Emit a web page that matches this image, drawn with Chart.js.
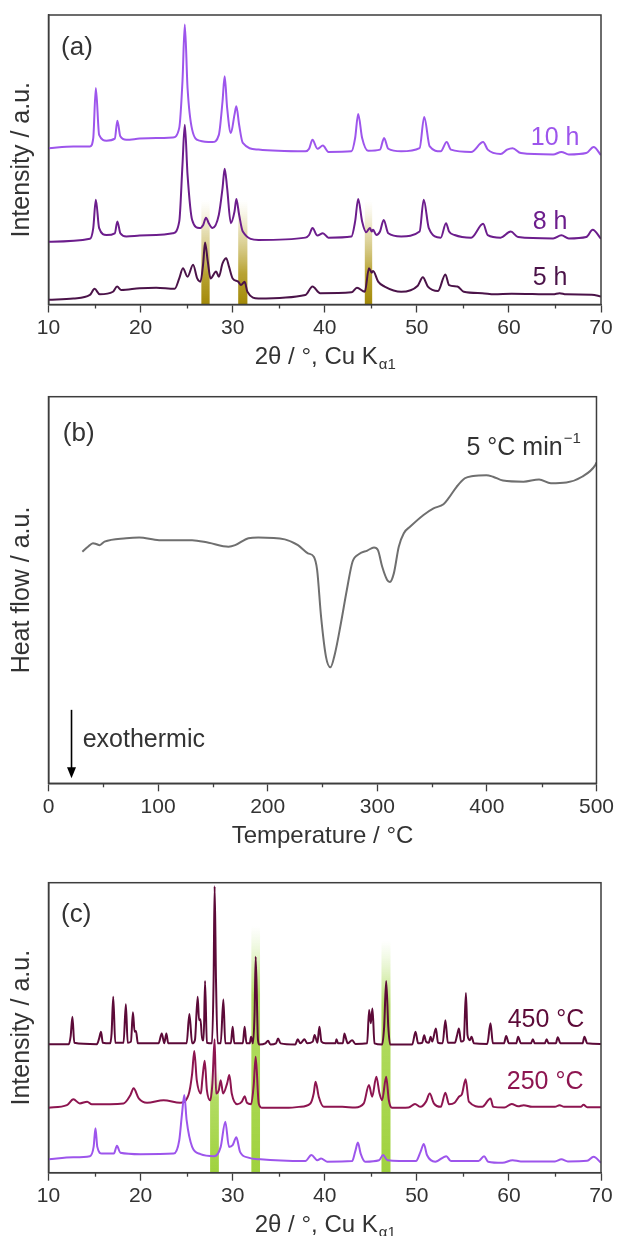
<!DOCTYPE html>
<html>
<head>
<meta charset="utf-8">
<script src="https://cdn.jsdelivr.net/npm/chart.js@4.4.0/dist/chart.umd.min.js"></script>
<style>
html, body { margin: 0; padding: 0; background: #fff; }
body { width: 617px; height: 1236px; position: relative; overflow: hidden; }
canvas { position: absolute; left: 0; }
</style>
</head>
<body>
<canvas id="chartA" width="617" height="375" style="top:0px"></canvas>
<canvas id="chartB" width="617" height="475" style="top:375px"></canvas>
<canvas id="chartC" width="617" height="386" style="top:850px"></canvas>
<script>
// (a) XRD after milling time, [2theta, intensity a.u.]
const xrd10h = [
    [10,54.0],[12.7,54.6],[14.5,54.6],[14.86,57.5],[15.14,74.8],[15.5,58.6],[16.3,56.6],[17.2,57.3],[17.48,63.5],[17.8,58.1],
    [18.45,56.9],[19.9,57.3],[21.7,57.5],[23.5,57.7],[24.2,61.0],[24.55,77.1],[24.8,96.7],[25.1,74.8],[25.6,60.4],[26.4,56.6],
    [27.8,56.1],[28.5,58.6],[28.9,70.2],[29.13,78.8],[29.4,67.9],[29.8,59.2],[30.2,65.6],[30.4,68.5],[30.7,62.1],[31.1,55.8],
    [32.8,53.5],[37.9,52.9],[38.3,53.8],[38.67,56.9],[39.2,53.8],[39.8,54.9],[40.4,52.7],[42.9,52.9],[43.3,57.5],[43.63,65.8],
    [44.06,57.5],[44.7,53.1],[46.0,53.5],[46.44,57.5],[46.9,53.8],[48.3,52.9],[50.3,54.0],[50.8,64.8],[51.4,54.6],[52.6,52.9],
    [53.24,56.1],[53.7,53.5],[55.9,52.7],[57.2,56.1],[57.7,53.5],[59.1,52.0],[59.8,53.5],[60.4,54.0],[61.3,52.3],[64.8,51.8],
    [65.7,52.7],[66.5,51.8],[68.4,52.3],[69.2,54.4],[70,51.6]
];
const xrd8h = [
    [10,21.7],[14.5,22.7],[14.86,26.4],[15.14,36.2],[15.5,26.4],[16.3,24.0],[17.2,24.6],[17.48,28.7],[17.8,24.6],[18.45,23.5],
    [19.9,23.8],[21.7,24.0],[23.5,24.6],[24.2,28.7],[24.55,48.3],[24.8,62.1],[25.1,44.8],[25.6,29.2],[26.4,26.4],[26.8,27.5],
    [27.1,30.0],[27.4,28.1],[27.8,26.4],[28.5,31.0],[28.9,40.2],[29.13,46.9],[29.4,40.2],[29.8,28.1],[30.2,32.1],[30.4,36.4],
    [30.7,31.0],[31.1,25.2],[32.8,22.3],[37.9,23.1],[38.3,24.0],[38.67,26.4],[39.2,23.8],[39.8,24.6],[40.4,23.1],[42.9,23.5],
    [43.3,28.7],[43.63,36.4],[44.06,28.7],[44.5,25.0],[44.9,26.4],[45.1,25.2],[45.25,25.8],[45.6,24.0],[46.0,25.2],[46.4,29.2],
    [46.9,24.6],[48.3,23.5],[50.3,25.2],[50.75,36.2],[51.3,26.4],[52.6,23.1],[53.17,28.1],[53.5,25.2],[54.1,24.0],[55.9,23.1],
    [57.2,27.9],[57.7,24.0],[59.1,23.1],[60.2,25.2],[61.0,23.3],[64.8,22.8],[65.7,23.9],[66.5,22.8],[68.4,23.3],[69.1,25.8],[70,22.7]
];
const xrd5h = [
    [10,1.6],[12.7,2.1],[14.5,3.3],[15.0,5.4],[15.57,3.5],[17.0,4.4],[17.45,6.2],[17.9,5.0],[19.9,5.6],[21.7,5.8],
    [23.7,5.4],[24.2,9.0],[24.6,12.5],[25.1,9.6],[25.7,13.7],[26.15,9.0],[26.5,7.9],[26.8,14.2],[27.0,21.4],[27.3,14.8],
    [27.6,9.0],[28.2,11.4],[28.5,9.6],[28.9,14.2],[29.3,16.0],[29.6,13.1],[30.0,9.0],[30.6,7.9],[30.9,6.7],[31.3,7.9],
    [31.6,4.4],[32.8,2.1],[37.9,3.3],[38.67,6.2],[39.5,3.9],[42.9,4.2],[43.5,5.8],[44.35,4.4],[44.8,12.5],[45.1,11.0],
    [45.25,11.6],[45.8,7.9],[46.5,6.2],[48.3,4.4],[50.1,6.5],[50.65,9.4],[51.2,6.2],[52.3,4.7],[53.1,10.4],[53.5,6.7],
    [54.4,6.2],[55.1,4.4],[57.1,3.9],[58.4,3.5],[60.3,3.7],[64.8,3.5],[65.5,3.9],[66.2,3.5],[69.0,3.4],[70,2.8]
];
// highlighted reflections: [from, to, fade top]
const goldBands = [[26.6,27.5,36],[30.6,31.6,36],[44.35,45.15,36]];

// (b) DSC, [temperature, heat flow a.u.]
const dscCurve = [
    [30.9,59.9],[36.0,61.2],[40.6,62.1],[43.6,61.9],[46.6,61.6],[51.1,62.5],[70.8,63.4],[82.8,63.6],[100.9,62.9],[131.0,62.9],
    [146.2,62.2],[164.3,61.2],[170.3,61.6],[182.4,63.4],[191.4,63.6],[215.6,63.1],[227.6,61.6],[236.7,59.5],[242.1,58.6],[245.1,55.2],
    [248.7,43.1],[253.2,32.7],[257.2,30.0],[261.4,33.6],[266.8,41.4],[272.2,50.0],[277.4,57.3],[283.4,59.3],[290.9,60.2],[297.0,61.0],
    [300.6,60.3],[304.5,56.0],[309.0,52.6],[311.5,52.1],[315.1,54.3],[319.6,61.2],[324.2,64.7],[330.1,66.4],[342.2,69.4],[351.3,71.1],
    [360.4,72.2],[364.9,73.7],[372.4,76.7],[379.9,78.9],[387.5,79.5],[399.5,79.7],[405.6,79.3],[414.7,78.3],[433.4,78.0],[447.6,78.6],
    [458.4,77.6],[472.5,77.8],[486.8,79.3],[498.9,82.3],[500,83.0]
];

// (c) XRD after annealing
const xrd450 = [
    [10,44.3],[12.2,44.3],[12.4,46.9],[12.6,53.8],[12.8,44.8],[15.25,44.3],[15.5,46.3],[15.7,48.6],[15.9,44.8],[16.7,44.6],
    [16.85,48.0],[17.03,60.7],[17.25,44.8],[18.15,44.8],[18.4,58.1],[18.6,44.8],[18.95,45.2],[19.17,55.3],[19.35,48.6],[19.5,48.9],
    [19.7,44.6],[21.95,44.6],[22.3,48.0],[22.57,44.6],[22.8,48.0],[23.0,44.6],[25.0,44.6],[25.3,54.7],[25.6,44.6],[25.9,45.7],
    [26.2,60.7],[26.35,52.6],[26.5,52.9],[26.7,45.7],[26.85,45.7],[27.0,66.1],[27.2,44.8],[27.75,44.6],[27.93,66.4],[28.04,98.8],
    [28.19,66.4],[28.37,44.6],[28.7,44.6],[28.99,59.7],[29.2,44.6],[29.8,44.6],[30.0,50.3],[30.18,44.6],[31.1,44.6],[31.3,50.3],
    [31.5,44.6],[31.85,44.6],[32.0,46.9],[32.2,44.6],[32.38,55.0],[32.5,74.5],[32.75,45.7],[32.9,44.2],[33.55,44.6],[33.84,45.5],
    [34.1,44.2],[34.7,44.6],[34.93,46.3],[35.2,44.6],[36.8,44.2],[37.07,46.0],[37.35,44.6],[37.8,46.0],[38.1,44.6],[38.7,45.2],
    [38.9,47.5],[39.2,44.8],[39.42,50.3],[39.64,45.2],[40.07,44.6],[41.16,44.6],[41.27,46.0],[41.45,44.6],[41.96,44.6],[42.14,48.0],
    [42.3,46.3],[42.5,44.6],[42.97,45.7],[43.33,44.4],[44.6,44.6],[44.82,56.1],[45.0,51.5],[45.18,56.6],[45.4,44.6],[46.23,44.2],
    [46.45,50.3],[46.67,66.1],[46.9,50.3],[47.1,44.2],[49.5,44.2],[49.86,48.6],[50.14,44.6],[50.58,44.8],[50.8,47.4],[51.0,45.2],
    [51.3,44.8],[51.5,46.9],[51.67,45.2],[52.07,49.7],[52.3,44.8],[52.8,44.6],[53.1,52.6],[53.37,44.8],[54.13,44.8],[54.35,47.1],
    [54.57,49.7],[54.8,45.2],[55.1,45.7],[55.33,62.0],[55.5,47.5],[55.76,45.7],[55.94,46.9],[56.2,44.6],[57.65,44.4],[58.0,51.5],
    [58.26,44.6],[59.46,44.6],[59.7,47.1],[60.0,44.6],[60.8,44.6],[61.0,46.9],[61.3,44.6],[62.4,44.6],[62.6,46.0],[62.8,44.6],
    [63.9,44.6],[64.1,46.0],[64.3,44.6],[65.1,44.6],[65.3,46.7],[65.6,44.6],[68.0,44.6],[68.2,46.9],[68.5,44.6],[70,44.4]
];
const xrd250 = [
    [10,22.4],[12.0,23.3],[12.7,25.3],[13.4,23.9],[14.2,24.5],[14.7,23.6],[18.15,23.9],[18.9,26.8],[19.24,29.1],[19.8,25.6],
    [20.7,24.1],[22.5,25.0],[24.3,24.1],[25.2,26.8],[25.6,34.2],[25.83,42.0],[26.1,31.9],[26.55,27.3],[26.7,31.9],[26.96,38.6],
    [27.2,28.5],[27.57,25.0],[27.8,30.8],[28.04,46.0],[28.2,27.3],[28.5,28.5],[28.7,31.9],[28.96,27.3],[29.4,30.8],[29.64,33.7],
    [29.9,27.3],[30.5,23.6],[31.0,24.5],[31.3,26.4],[31.55,24.1],[32.0,23.6],[32.28,30.0],[32.5,40.0],[32.83,23.9],[33.2,22.4],
    [36.1,22.4],[37.2,22.7],[38.44,23.9],[38.8,27.3],[39.0,31.4],[39.35,26.2],[39.9,22.7],[41.9,22.7],[43.3,22.5],[44.24,23.9],
    [44.8,30.2],[45.15,26.2],[45.6,33.1],[45.95,27.3],[46.23,25.0],[46.67,33.1],[46.96,25.0],[47.3,22.4],[49.1,22.5],[49.8,23.7],
    [50.4,22.7],[51.0,24.5],[51.4,27.3],[51.85,23.9],[52.6,22.7],[53.1,27.6],[53.5,23.6],[54.1,24.1],[54.57,26.2],[54.9,27.1],
    [55.3,32.2],[55.65,24.5],[57.1,22.7],[58.0,25.6],[58.3,22.7],[59.5,22.5],[60.3,23.7],[61.0,22.9],[61.6,23.3],[62.5,22.7],
    [65.0,22.7],[65.5,23.3],[66.0,22.7],[67.8,22.7],[68.1,23.4],[68.5,22.6],[70,22.6]
];
const xrdMilled = [
    [10,4.6],[12.7,5.3],[14.5,5.7],[14.9,8.9],[15.1,15.3],[15.3,8.9],[15.8,6.6],[17.1,6.6],[17.43,9.3],[17.8,6.9],
    [20.0,6.4],[23.6,6.6],[24.2,11.2],[24.5,20.4],[24.75,26.8],[25.0,18.1],[25.6,8.9],[26.5,6.4],[28.0,5.7],[28.7,8.9],
    [29.2,17.6],[29.6,8.9],[30.0,9.5],[30.4,12.2],[30.8,7.2],[31.7,5.2],[33.0,4.6],[37.9,4.0],[38.55,6.1],[39.2,4.3],
    [39.6,4.9],[40.25,3.8],[42.97,4.0],[43.3,7.2],[43.6,10.4],[43.9,6.6],[44.4,3.8],[45.9,4.3],[46.34,6.1],[46.8,4.3],
    [49.9,4.0],[50.4,7.2],[50.76,9.9],[51.1,6.1],[52.0,3.8],[53.2,5.7],[53.7,4.0],[56.7,4.0],[57.3,5.7],[57.75,3.8],
    [59.3,3.4],[60.4,4.3],[61.3,3.9],[65.0,3.9],[65.7,4.6],[66.4,3.9],[68.5,4.1],[69.2,5.5],[70,3.4]
];
const greenBands = [[27.55,28.5,36],[32.03,32.97,85],[46.16,47.14,80]];

const FONT = "'Liberation Sans', Arial, Helvetica, sans-serif";
const AXIS = '#3d3d3d';
const TEXT = '#333333';

const decorPlugin = {
    id: 'decor',
    beforeDatasetsDraw(chart, args, opts) {
        const {ctx, scales: {x, y}} = chart;
        (opts.bands || []).forEach(b => {
            const x1 = x.getPixelForValue(b[0]);
            const x2 = x.getPixelForValue(b[1]);
            const y0 = y.getPixelForValue(0);
            const yTop = y.getPixelForValue(b[2]);
            const g = ctx.createLinearGradient(0, y0, 0, yTop);
            opts.bandStops.forEach(s => g.addColorStop(s[0], s[1]));
            ctx.save();
            ctx.fillStyle = g;
            ctx.fillRect(x1, yTop, x2 - x1, y0 - yTop);
            ctx.restore();
        });
    },
    afterDraw(chart, args, opts) {
        const {ctx, chartArea: a, scales: {x, y}} = chart;
        ctx.save();
        ctx.strokeStyle = AXIS;
        ctx.lineWidth = 1.5;
        ctx.strokeRect(a.left, a.top, a.right - a.left, a.bottom - a.top);

        // short minor ticks between the labelled ones
        ctx.lineWidth = 1.3;
        x.ticks.forEach(t => {
            if (t.value % opts.major !== 0) {
                const px = Math.round(x.getPixelForValue(t.value)) + 0.5;
                ctx.beginPath();
                ctx.moveTo(px, a.bottom);
                ctx.lineTo(px, a.bottom + 4);
                ctx.stroke();
            }
        });

        ctx.textBaseline = 'middle';
        (opts.texts || []).forEach(t => {
            ctx.font = (t.size || 25) + 'px ' + FONT;
            ctx.fillStyle = t.color || TEXT;
            let px = x.getPixelForValue(t.x);
            const py = y.getPixelForValue(t.y);
            const mainW = ctx.measureText(t.text).width;
            let supW = 0;
            if (t.sup) {
                ctx.font = '15px ' + FONT;
                supW = ctx.measureText(t.sup).width;
                ctx.font = (t.size || 25) + 'px ' + FONT;
            }
            if (t.align === 'right') px -= mainW + supW;
            ctx.textAlign = 'left';
            ctx.fillText(t.text, px, py);
            if (t.sup) {
                ctx.font = '15px ' + FONT;
                ctx.fillText(t.sup, px + mainW + 1, py - 9);
            }
        });

        if (opts.arrow) {
            const ax = x.getPixelForValue(opts.arrow.x);
            const yA = y.getPixelForValue(opts.arrow.from);
            const yB = y.getPixelForValue(opts.arrow.to);
            ctx.strokeStyle = '#000';
            ctx.fillStyle = '#000';
            ctx.lineWidth = 1.6;
            ctx.beginPath();
            ctx.moveTo(ax, yA);
            ctx.lineTo(ax, yB - 8);
            ctx.stroke();
            ctx.beginPath();
            ctx.moveTo(ax - 4.5, yB - 11);
            ctx.lineTo(ax + 4.5, yB - 11);
            ctx.lineTo(ax, yB);
            ctx.closePath();
            ctx.fill();
        }

        // x-axis title, with subscript where needed
        if (opts.xTitle) {
            const cx = (a.left + a.right) / 2;
            const cy = a.bottom + 53;
            ctx.fillStyle = TEXT;
            ctx.font = '24px ' + FONT;
            const w1 = ctx.measureText(opts.xTitle.text).width;
            let w2 = 0;
            if (opts.xTitle.sub) {
                ctx.font = '15px ' + FONT;
                w2 = ctx.measureText(opts.xTitle.sub).width;
            }
            const start = cx - (w1 + w2) / 2;
            ctx.font = '24px ' + FONT;
            ctx.fillText(opts.xTitle.text, start, cy);
            if (opts.xTitle.sub) {
                ctx.font = '15px ' + FONT;
                ctx.fillText(opts.xTitle.sub, start + w1 + 1, cy + 7);
            }
        }
        ctx.restore();
    }
};

function toPoints(list) {
    return list.map(p => ({x: p[0], y: p[1]}));
}

function series(list, color, width) {
    return {
        data: toPoints(list),
        borderColor: color,
        borderWidth: width || 2,
        pointRadius: 0,
        fill: false,
        cubicInterpolationMode: 'monotone',
    };
}

function xAxis(min, max, step, major, height) {
    return {
        type: 'linear',
        min: min,
        max: max,
        afterFit: function (scale) { scale.height = height; },
        ticks: {
            stepSize: step,
            autoSkip: false,
            maxRotation: 0,
            padding: 3,
            color: TEXT,
            font: {family: FONT, size: 21},
            callback: v => (v % major === 0 ? String(v) : ''),
        },
        grid: {
            display: true, drawOnChartArea: false, drawTicks: true, tickLength: 8, tickWidth: 1.3,
            tickColor: c => (c.tick && c.tick.value % major === 0 ? AXIS : 'rgba(0,0,0,0)'),
        },
        border: {display: true, color: AXIS, width: 1.5},
    };
}

function yAxis(title) {
    return {
        type: 'linear',
        min: 0,
        max: 100,
        afterFit: function (scale) { scale.width = 48.5; },
        ticks: {display: false},
        grid: {display: false},
        border: {display: true, color: AXIS, width: 1.5},
        title: {display: true, text: title, color: TEXT, font: {family: FONT, size: 25}, padding: {top: 7, bottom: 0}},
    };
}

function makeChart(id, datasets, xScale, yTitle, topPad, decor) {
    return new Chart(document.getElementById(id), {
        type: 'line',
        data: {datasets: datasets},
        options: {
            responsive: false,
            animation: false,
            layout: {padding: {top: topPad, right: 16, left: 0, bottom: 0}},
            scales: {x: xScale, y: yAxis(yTitle)},
            plugins: {legend: {display: false}, tooltip: {enabled: false}, decor: decor},
        },
        plugins: [decorPlugin],
    });
}

const c10h = '#9d55ec';
const c8h = '#6c1d8c';
const c5h = '#4b1349';
const c450 = '#5c0a38';
const c250 = '#8d1550';

makeChart('chartA',
    [series(xrd5h, c5h), series(xrd8h, c8h), series(xrd10h, c10h)],
    xAxis(10, 70, 5, 10, 70.5),
    'Intensity / a.u.', 15,
    {
        major: 10,
        bands: goldBands,
        bandStops: [[0, 'rgba(163,137,8,1)'], [0.3, 'rgba(180,158,40,0.95)'], [0.7, 'rgba(208,194,115,0.55)'], [1, 'rgba(232,224,175,0)']],
        texts: [
            {text: '(a)', x: 11.36, y: 88.6, size: 26},
            {text: '10 h', x: 67.66, y: 57.5, color: c10h, align: 'right'},
            {text: '8 h', x: 66.36, y: 28.5, color: c8h, align: 'right'},
            {text: '5 h', x: 66.36, y: 9.2, color: c5h, align: 'right'},
        ],
        xTitle: {text: '2θ / °, Cu K', sub: 'α1'},
    });

makeChart('chartB',
    [series(dscCurve, '#6f6f6f', 2)],
    xAxis(0, 500, 50, 100, 66.7),
    'Heat flow / a.u.', 21.7,
    {
        major: 100,
        texts: [
            {text: '(b)', x: 13.1, y: 90.4, size: 26},
            {text: '5 °C min', sup: '−1', x: 381.4, y: 86.7},
            {text: 'exothermic', x: 31.2, y: 11.2},
        ],
        arrow: {x: 21, from: 19, to: 1.3},
        xTitle: {text: 'Temperature / °C'},
    });

makeChart('chartC',
    [series(xrdMilled, c10h), series(xrd250, c250), series(xrd450, c450)],
    xAxis(10, 70, 5, 10, 63.3),
    'Intensity / a.u.', 32.7,
    {
        major: 10,
        bands: greenBands,
        bandStops: [[0, 'rgba(160,210,62,1)'], [0.72, 'rgba(170,216,82,0.9)'], [1, 'rgba(205,236,160,0)']],
        texts: [
            {text: '(c)', x: 11.36, y: 88.9, size: 26},
            {text: '450 °C', x: 68.2, y: 52.7, color: c450, align: 'right'},
            {text: '250 °C', x: 68.1, y: 31.3, color: c250, align: 'right'},
        ],
        xTitle: {text: '2θ / °, Cu K', sub: 'α1'},
    });
</script>
</body>
</html>
